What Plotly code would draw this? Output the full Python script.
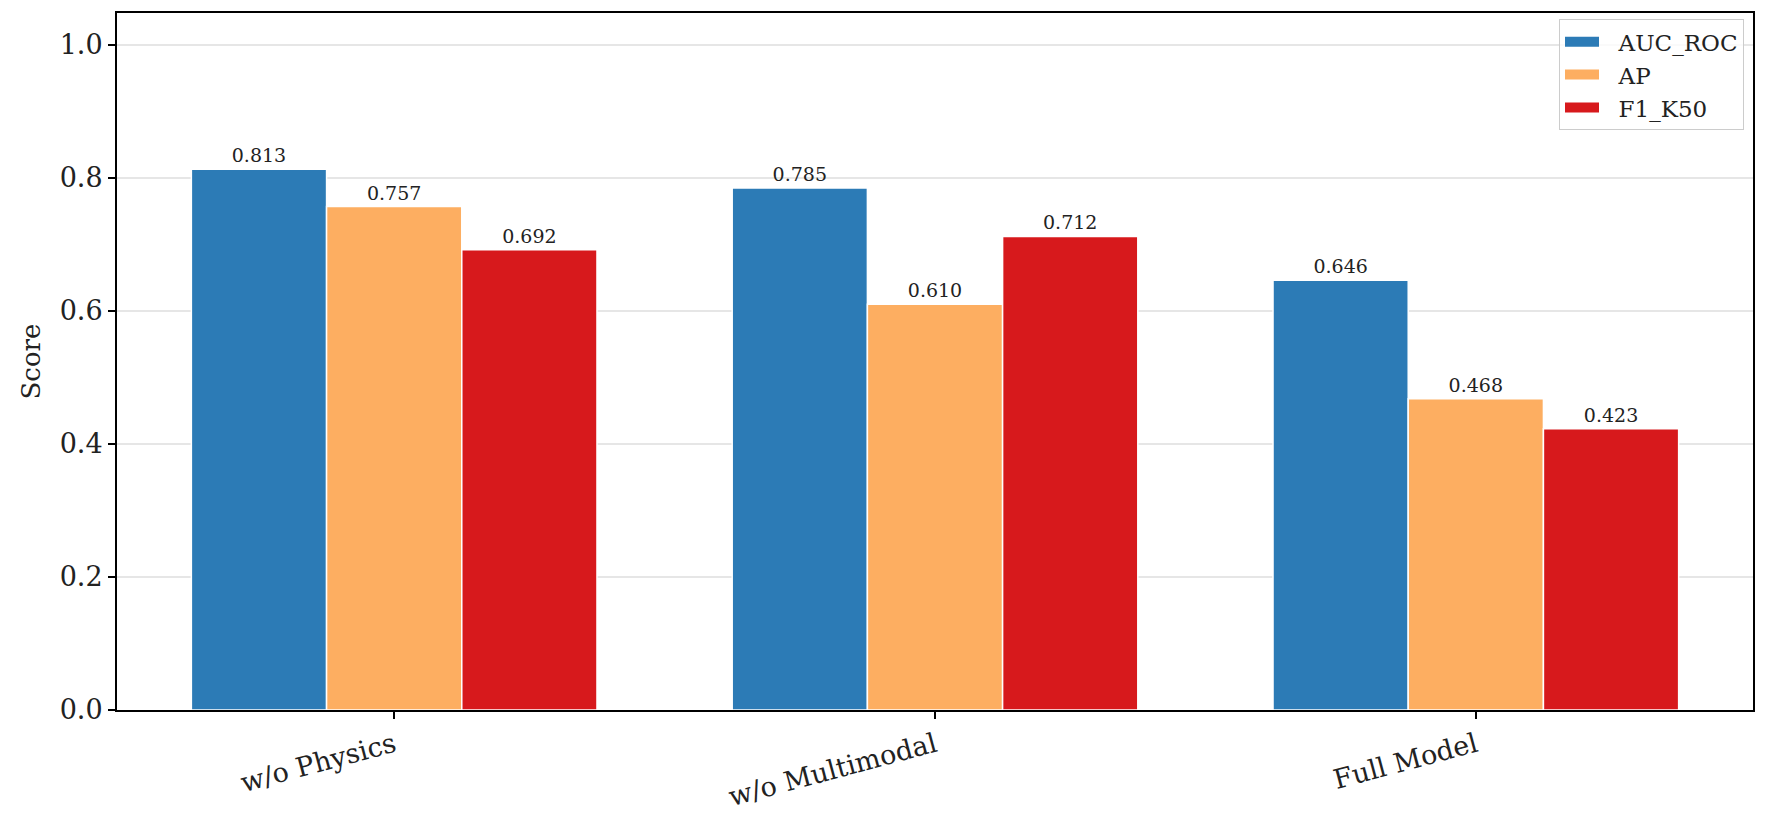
import plotly.graph_objects as go

categories = ["w/o Physics", "w/o Multimodal", "Full Model"]
series_names = ["AUC_ROC", "AP", "F1_K50"]
auc_roc = [0.813, 0.785, 0.646]
ap = [0.757, 0.610, 0.468]
f1_k50 = [0.692, 0.712, 0.423]
colors = ["#2c7bb6", "#fdae61", "#d7191c"]
y_ticks = [0.0, 0.2, 0.4, 0.6, 0.8, 1.0]

FONT = "DejaVu Serif"
fig = go.Figure()
for name, vals, c in zip(series_names, [auc_roc, ap, f1_k50], colors):
    fig.add_trace(go.Bar(
        x=categories, y=vals, name=name, showlegend=False,
        marker=dict(color=c, line=dict(color="white", width=1.5)),
        text=[f"{v:.3f}" for v in vals], textposition="outside",
        textfont=dict(family=FONT, size=19, color="#222"),
        cliponaxis=False,
    ))
# legend entries drawn as wide patches
for name, c in zip(series_names, colors):
    fig.add_trace(go.Scatter(
        x=[None], y=[None], mode="lines", name="\u00a0\u00a0" + name,
        line=dict(color=c, width=10), showlegend=True,
    ))

fig.update_layout(
    width=1772, height=817,
    margin=dict(l=117, r=19, t=13, b=107),
    paper_bgcolor="white", plot_bgcolor="white",
    barmode="group", bargap=0.25, bargroupgap=0,
    font=dict(family=FONT, size=24, color="#222"),
    legend=dict(
        x=0.9945, y=0.991, xanchor="right", yanchor="top",
        bordercolor="#cccccc", borderwidth=1, bgcolor="rgba(255,255,255,0.8)",
        font=dict(family=FONT, size=23, color="#222"),
        itemwidth=34, tracegroupgap=0,
    ),
    showlegend=True,
)
fig.update_xaxes(
    range=[-0.5125, 2.5125], tickangle=-15, automargin=False,
    showline=True, linecolor="black", linewidth=2, mirror=True,
    ticks="outside", ticklen=7, tickwidth=1.5, tickcolor="black",
    tickfont=dict(family=FONT, size=27, color="#222"), showgrid=False,
)
fig.update_yaxes(
    range=[0, 1.048], tickvals=y_ticks, ticktext=[f"{t:.1f}" for t in y_ticks],
    automargin=False,
    showline=True, linecolor="black", linewidth=2, mirror=True,
    ticks="outside", ticklen=7, tickwidth=1.5, tickcolor="black",
    tickfont=dict(family=FONT, size=27, color="#222"),
    showgrid=True, gridcolor="#e6e6e6", gridwidth=1.5,
    title=dict(text="Score", font=dict(family=FONT, size=26, color="#222"), standoff=12),
    zeroline=False,
)
fig.write_html("out.html")
